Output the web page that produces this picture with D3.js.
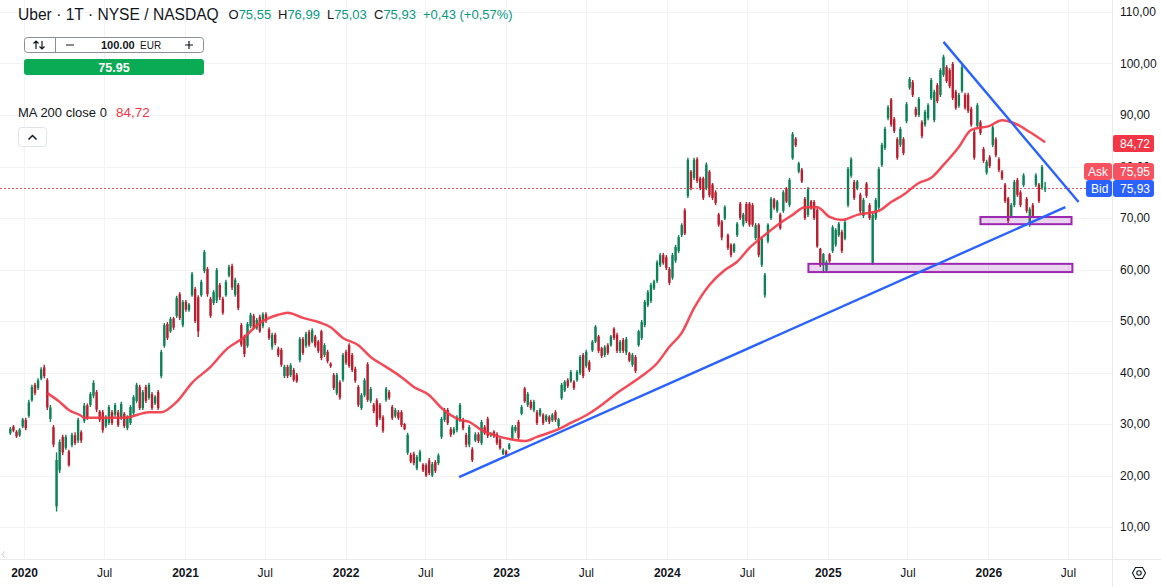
<!DOCTYPE html>
<html>
<head>
<meta charset="utf-8">
<style>
html,body{margin:0;padding:0;background:#fff;overflow:hidden}
svg{display:block;font-family:"Liberation Sans",Arial,sans-serif}
text{fill:#131722}
</style>
<script src="https://cdn.jsdelivr.net/npm/d3@7"></script>
</head>
<body>
<svg id="chart" width="1161" height="587"></svg>
<script>
// Weekly price bars for Uber, oldest first
const firstBarDate = "2019-12-01";
const highs = [
29.4,29.8,28.8,29.2,31.2,31.2,34.7,37.6,38,38.9,
41,41.5,38.9,33.7,29.8,24.5,27,27.9,27.9,25,
28.3,28.4,31.2,28.8,34.1,34,36.2,38.5,36.6,32.7,
32.7,31.7,33.7,32.7,34.1,32.7,34.3,32.3,31.7,33.7,
35.6,38,37.6,36.6,37.6,38,36.2,35.6,36.6,44.4,
49.6,49.8,50.8,50.8,54.9,55.6,54.1,54.1,53.5,59.5,
56.6,55,58,63.8,60.5,54.7,56,60.3,57.4,54.7,
58,60.9,61.1,58.4,57.4,49.6,47.3,49.8,51.6,51.4,
50.6,51.2,51.7,51.7,48.8,47.7,47.7,45,44.8,41.5,
41.5,41.8,40.9,39.9,46.9,46.9,47.9,48.3,48.6,47.3,
46.3,48.3,45.7,44.4,42,39.9,39.9,38.5,43.8,44.4,
45.7,43.8,41.1,37.6,36,38.9,42,37.2,34.1,35,
34.1,31.7,37.2,36.6,33.7,33.1,32.7,32.7,30.2,28.3,
24.4,24.6,24,25,22.4,22.4,23.4,22.6,23,24.3,
31.4,33.1,33.1,29.4,29.4,31.7,34.1,31.2,28.3,29.8,
25.5,28.4,28.4,30.8,29.8,31.4,28.4,28.8,28.4,27.3,
25.3,25,26.3,29.8,29.8,30.8,33.7,37.2,36.2,34.7,
34.7,32.7,33.1,32.1,31.9,31.7,32.1,32.7,31.2,38,
38.5,38.9,40.5,38.5,40.5,43.4,43.8,44.4,42.4,46.3,
49.2,47.3,45,45.3,45.7,47.3,48.8,47.7,46.3,46.7,
46.9,44,43.8,43.4,48.3,50.2,54.1,56,57.4,58,
61.8,63.2,63.2,62.8,60.5,63.2,64.8,66.7,69,71.9,
81.7,79.3,81.7,81.8,78,78,80.8,79.3,76.8,75.4,
71,69.6,72.5,67,65.1,65.1,69.2,73.1,71,73.1,
73.1,72.9,69,69,66.3,59.3,69,74.1,73.9,73.5,
71,75.4,76,77.8,86.7,85.7,80.9,79.7,74.1,76,
73.5,73.5,71.9,64.2,63.2,61.8,63.2,68.6,68,69.2,
67.7,69.6,79.9,81.8,77.4,77.4,74.9,73.9,77,72.9,
71,73.9,79.9,84.6,87.7,91.9,93.3,89.6,85.7,87.7,
85.7,92.5,97.4,96.8,91.6,93.5,89,91,92.3,97.2,
94.9,96.2,99.1,101.7,99.7,99.1,100.3,94.9,94.3,99.7,
94.3,94.3,91.6,87.1,92.3,89,83.8,81.3,82.2,88,
85.7,81.8,79.3,76.8,74.1,72.9,77.4,77.8,75.4,78.7,
74.1,72.1,72.9,78.7,76.8,80.3,76.99];
const lows = [
27.9,28.4,27.3,27.5,29.2,28.8,31.2,34.3,35.6,36.6,
38.5,38.9,32.7,30.4,25.5,13,20.5,24,25,21.7,
25.5,25.9,26.3,26.3,30.2,30.8,33.3,35,32.3,30.4,
28.3,29.2,29.8,29.8,31.4,29.4,30.8,29.2,28.8,29.8,
31.7,34.1,32.7,32.7,34.1,34.7,32.7,33.7,32.7,38.9,
44.8,46.3,47.7,48.3,50.6,50.2,48.8,51.8,51.8,54.7,
49.6,46.9,54.7,59.3,54.7,50.6,53.1,53.5,54.1,51.2,
54.7,58.5,56,54.7,52.1,45,43,44.8,48.6,48.3,
48.3,47.7,48.6,49.6,46.3,44.4,45.3,43,41.1,38.9,
38.9,39.1,38.2,38,42,43.4,44.8,45,45.7,44.8,
43.8,42.4,43,41.8,40.9,36.6,35.6,34.7,38.2,41.5,
40.9,40.1,38,33.3,32.7,35.2,34.3,34.1,32.1,29.4,
30.8,28.3,34.3,34.7,30.8,31.2,30.8,29.4,28.8,24,
22.4,22,21,22.6,20.7,19.7,20.1,19.7,20.5,22,
27.1,30.4,29.8,27.5,27.9,28.4,30.4,28.8,25.5,25.5,
22.6,26.5,26.3,25.9,27.9,27.3,27.5,27.3,25.9,25,
24,23.6,25,26.9,28.3,26.9,31.7,34.1,33.3,32.7,
32.3,29.8,31.4,29.8,30.4,30,30.4,30.4,29.2,34.7,
36.2,37,38,36.6,38.2,39.5,38.9,40.9,40.1,44,
45.7,43.8,42.8,43,43.4,45,46.3,43.8,43.8,43.8,
43.4,42,41.1,39.9,45,46.3,48.8,52.7,53.5,56,
57.4,60.5,60.9,59.9,57,58,61.3,63.2,66.3,66.7,
73.9,75.4,77.4,76.8,75.4,73.5,75.4,74,73.5,72.5,
68.3,65.7,69.6,63.8,62.4,63.2,66.3,69.6,68.3,69,
68.3,68.3,65.7,62.4,60.5,54.5,65.1,69.6,71.6,71,
67.7,71,72.9,72.1,81.3,83.8,78.7,76.8,69.6,70.2,
71.6,69.6,64.2,60.5,59.3,59.5,61.3,63.2,64.4,66.3,
63.2,65.7,72.1,77.8,73.5,75.4,70.9,70,73.9,69.6,
60.9,69.6,71.6,79.9,83.2,89,87.7,86.5,81.3,83.8,
82.2,88.4,94.9,93.5,89.6,89.6,85.5,87.7,89,92.9,
88.6,92.3,93.5,97.4,96.2,95.2,92.9,91,91.4,94.3,
91,90.4,87.7,81.3,87.5,86.1,80.7,78.4,79.7,83.8,
81.8,78.9,77.4,72.9,69,70,72.1,74.1,72.1,76,
71,68.3,70,76,72.9,75.5,75.03];
const opens = [
28.2,29.5,28.5,27.8,29.5,30.8,31.6,34.6,37.6,37,
38.8,41,38.5,31,29.4,14,21,27.5,25.4,24.7,
25.9,27.8,26.8,28.4,30.6,33.6,33.7,35.5,36.2,32.4,
32.3,29.6,30.2,32.3,31.8,32.3,31.2,32,29.2,30.2,
32.1,34.5,37.2,33.1,37.2,35.1,35.8,34,36.2,39.3,
45.2,49.4,48,50.5,51,55.2,49.2,53.7,52.1,55,
56.2,54.6,55,59.7,60.1,54.3,53.5,54,57,54.3,
55,58.8,60.7,55.1,57,49.2,46.9,45.2,49,51,
48.6,50.8,49,51.3,48.4,45,47.3,44.6,44.4,39.3,
41.1,39.5,40.5,39.5,42.4,46.5,45.2,47.9,46,47,
46,48,43.4,44,41.7,39.5,36,38.1,38.6,44,
45.3,43.4,40.7,37.2,33.1,35.6,41.6,34.5,33.7,34.6,
33.7,31.3,34.7,36.2,33.3,31.6,32.3,32.3,30,24.4,
24,24.2,21.4,22.9,22.1,22,22.9,20,22.6,22.4,
27.5,30.8,32.7,29,28.2,28.8,30.8,30.8,27.9,26,
25.1,26.8,28,26.3,29.4,31,27.8,28.5,28,27,
24.2,24.7,25.2,27.3,28.7,30.4,32,36.9,33.7,34.3,
32.7,32.3,31.7,31.8,30.7,31.4,30.7,32.3,29.6,35,
36.5,38.5,38.3,38.2,38.5,39.9,43.4,41.3,42,44.3,
46,47,44.7,43.4,45.3,45.3,48.5,47.3,44.2,46.3,
43.9,43.7,41.5,43,45.3,46.7,49.2,53.1,53.9,56.3,
57.8,60.9,62.8,62.4,60.1,58.4,61.7,63.6,66.7,71.5,
74.3,79,77.8,81.4,77.7,77.7,75.8,79,76.5,75,
70.7,69.3,69.9,66.7,64.8,63.5,66.7,72.8,68.7,72.7,
72.8,72.5,66.1,68.7,60.9,55,65.5,70,73.6,71.4,
70.7,71.4,75.7,72.5,81.6,85.4,79,79.4,73.7,70.6,
73.2,73.1,71.6,64,60.8,59.8,62.9,63.6,64.8,66.7,
67.3,66,72.5,78.2,77,75.7,74.5,70.4,76.7,72.5,
61.3,70,72,80.3,83.6,89.4,93,89.2,85.3,84.2,
85.3,88.8,95.3,96.4,91.2,90,88.6,88.1,89.4,93.3,
89,95.8,93.9,97.8,99.3,98.7,99.9,94.5,91.8,94.7,
93.9,93.9,91.2,86.7,87.9,88.6,83.4,78.8,81.8,84.2,
85.3,81.4,79,76.5,73.8,70.4,72.5,77.4,75,76.4,
73.7,68.7,72.5,76.4,76.5,75.9,75.55];
const closes = [
29.1,28.7,27.6,28.9,30.9,29.2,34.2,37.2,36,38.5,
40.6,39.3,33.2,33.2,26,23,26.5,24.5,27.5,22,
27.9,26.3,30.8,26.8,33.6,31.2,35.8,38,32.8,30.8,
28.8,31.3,33.3,30.2,33.7,29.8,33.9,29.6,31.4,33.3,
35.2,37.6,33.1,36.2,34.5,37.6,33.1,35.3,33.1,44,
49.2,46.7,50.4,48.7,54.5,50.6,53.7,52.2,53.2,59.1,
50,48,57.6,63.4,55.2,51,55.6,59.9,54.6,51.6,
57.6,60.5,56.5,58,52.5,45.4,43.6,49.4,51.2,48.7,
50.2,48,51.3,50,46.7,47.3,45.7,43.4,41.5,41.1,
39.3,41.4,38.6,38.3,46.5,43.8,47.5,45.4,48.2,45.2,
44.2,42.8,45.3,42.2,41.2,37,39.5,35.1,43.4,41.9,
41.3,40.5,38.4,33.7,35.6,38.5,34.7,36.8,32.5,29.8,
31.2,28.7,36.8,35.1,31.2,32.7,31.2,29.8,29,27.9,
22.7,22.4,23.6,24.6,21,20,20.5,22.2,20.9,23.9,
31,32.7,30.2,27.9,29,31.3,33.7,29.2,26,29.4,
23,28,26.7,30.4,28.2,27.7,28.2,27.6,26.3,25.3,
25,24,26,29.4,29.4,27.3,33.3,34.4,35.8,33.1,
34.3,30.2,32.8,30.2,31.6,30.4,31.8,30.8,30.9,37.6,
38.2,37.4,40.1,37,40.1,43,39.3,44,40.5,46,
48.9,44.2,43.2,44.9,43.8,47,46.7,44.2,45.9,44.2,
46.5,42.3,43.4,40.3,48,49.8,53.7,55.6,57,57.7,
61.4,62.8,61.3,60.3,57.4,62.8,64.4,66.3,68.6,67,
81.3,75.8,81.3,77.2,75.8,73.9,80.4,74.4,73.9,72.9,
68.7,66.2,72.1,64.2,62.8,64.9,68.9,70,70.7,69.4,
68.7,68.7,68.6,62.8,66,59,68.7,73.7,72,73.2,
68,75,73.2,77.4,86.3,84.1,80.6,77.1,70,75.6,
71.9,70,64.5,60.8,63,61.4,61.6,68.2,67.7,68.9,
63.6,69.2,79.5,81.4,73.9,77.1,71.3,73.5,74.3,70,
70.6,73.5,79.5,84.2,87.3,91.5,88.1,86.9,81.7,87.3,
82.6,92.1,97,93.9,90,93.1,85.9,90.6,91.9,96.8,
94.5,92.7,98.7,101.3,96.6,95.6,93.3,91.4,93.9,99.3,
91.4,90.8,88.1,81.7,91.9,86.5,81.1,80.9,80.1,87.6,
82.2,79.3,77.7,73.3,69.4,72.5,77,74.5,72.5,78.3,
71.4,71.7,70.4,78.3,73.3,79.9,75.93];

// 200-period moving average: bar number and value
const maBars = [12,16,19,23,24,29,37,45,49,54,59,65,70,76,81,87,90,95,100,104,108,113,117,122,127,131,136,140,146,149,153,158,162,167,171,178,182,187,192,197,205,210,214,218,222,227,232,236,240,245,249,254,258,262,266,270,275,282,286,290,295,299,303,308,312,318,322,326,331,336];
const maValues = [36,34.3,32.7,31.6,31.2,31.2,31.2,32.3,32.3,34.3,38,41.1,44.4,46.9,49.6,51.2,51.6,50.6,49.8,48.8,46.7,45.3,43,41.1,39.1,37.2,35.6,33.1,30.8,30.4,28.8,27.7,27.1,26.7,27.5,29,30.2,31.7,33.7,36,39.3,41.8,45,47.7,52.5,57,59.9,61.5,64.2,66.7,68.6,70.6,72.1,72.1,70.2,69.6,70.6,71.4,73.1,74.5,76.8,77.8,80.3,83.8,87.1,87.9,89,88.4,86.7,84.72];

// Hand-drawn trend lines: start and end of each
const trendDates = [["2022-09-16","2026-06-25"],["2025-09-21","2026-07-25"]];
const trendValues = [[19.7,72.1],[104.2,73.1]];

// Support zones
const zoneDates = [["2025-12-14","2026-07-09"],["2024-11-18","2026-07-11"]];
const zoneValues = [[70.2,68.8],[61.1,59.5]];

const priceTicks = [10,20,30,40,50,60,70,80,90,100,110];
const timeTickDates = ["2020-01-01","2020-07-01","2021-01-01","2021-07-01","2022-01-01","2022-07-01","2023-01-01","2023-07-01","2024-01-01","2024-07-01","2025-01-01","2025-07-01","2026-01-01","2026-07-01"];
const timeTickLabels = ["2020","Jul","2021","Jul","2022","Jul","2023","Jul","2024","Jul","2025","Jul","2026","Jul"];

const lastClose = 75.93;
const askPrice = 75.95;
const maLast = 84.72;

const UP = "#0f8158", DOWN = "#b8202f", MA_RED = "#f23645", BLUE = "#2962ff", PURPLE = "#9c27b0";
const commaFmt = v => d3.format(".2f")(v).replace(".", ",");

const svg = d3.select("#chart");
const parse = d3.utcParse("%Y-%m-%d");
const x = d3.scaleUtc().domain([parse("2020-01-01"), parse("2026-07-01")]).range([24, 1068]);
const y = d3.scaleLinear().domain([10, 110]).range([527, 12]);
const barDate = i => d3.utcDay.offset(parse(firstBarDate), 7 * i);
const tickDates = timeTickDates.map(parse);

// grid
const grid = svg.append("g").attr("stroke", "#f2f3f5").attr("stroke-width", 1).attr("shape-rendering", "crispEdges");
grid.selectAll("line.h").data(priceTicks).join("line").attr("class", "h")
  .attr("x1", 0).attr("x2", 1112).attr("y1", d => Math.round(y(d)) + .5).attr("y2", d => Math.round(y(d)) + .5);
grid.selectAll("line.v").data(tickDates).join("line").attr("class", "v")
  .attr("y1", 0).attr("y2", 559).attr("x1", d => Math.round(x(d)) + .5).attr("x2", d => Math.round(x(d)) + .5);

// axis frame
svg.append("line").attr("x1", 0).attr("x2", 1161).attr("y1", 559.5).attr("y2", 559.5).attr("stroke", "#e8eaee");
svg.append("line").attr("x1", 1112.5).attr("x2", 1112.5).attr("y1", 0).attr("y2", 587).attr("stroke", "#e8eaee");

// last price marker, snapped to a pixel row
const lastRow = Math.ceil(y(lastClose)) + .5;
svg.append("line").attr("x1", 0).attr("x2", 1086).attr("y1", lastRow).attr("y2", lastRow)
  .attr("stroke", "#f7525f").attr("stroke-width", 1).attr("stroke-dasharray", "2 2").attr("shape-rendering", "crispEdges");

// price bars
const bars = d3.range(highs.length);
const colorOf = i => closes[i] >= opens[i] ? UP : DOWN;
const gBars = svg.append("g");
gBars.selectAll("line").data(bars).join("line")
  .attr("x1", i => x(barDate(i))).attr("x2", i => x(barDate(i)))
  .attr("y1", i => y(highs[i])).attr("y2", i => y(lows[i]))
  .attr("stroke", colorOf).attr("stroke-width", 1.4);
gBars.selectAll("rect").data(bars).join("rect")
  .attr("x", i => x(barDate(i)) - 1.2).attr("width", 2.4)
  .attr("y", i => y(Math.max(opens[i], closes[i])))
  .attr("height", i => Math.abs(y(opens[i]) - y(closes[i])))
  .attr("fill", colorOf);

// moving average
svg.append("path")
  .attr("d", d3.line().x((d, i) => x(barDate(maBars[i]))).y(d => y(d)).curve(d3.curveMonotoneX)(maValues))
  .attr("fill", "none").attr("stroke", MA_RED).attr("stroke-width", 2.5).attr("stroke-opacity", .9);

// zones
svg.selectAll("rect.zone").data(zoneDates).join("rect").attr("class", "zone")
  .attr("x", d => x(parse(d[0]))).attr("width", d => x(parse(d[1])) - x(parse(d[0])))
  .attr("y", (d, i) => y(zoneValues[i][0])).attr("height", (d, i) => y(zoneValues[i][1]) - y(zoneValues[i][0]))
  .attr("fill", PURPLE).attr("fill-opacity", .2).attr("stroke", PURPLE).attr("stroke-width", 2);

// trend lines
svg.selectAll("line.trend").data(trendDates).join("line").attr("class", "trend")
  .attr("x1", d => x(parse(d[0]))).attr("x2", d => x(parse(d[1])))
  .attr("y1", (d, i) => y(trendValues[i][0])).attr("y2", (d, i) => y(trendValues[i][1]))
  .attr("stroke", BLUE).attr("stroke-width", 2.4);

// price axis
const axR = svg.append("g").attr("transform", "translate(1112,0)")
  .call(d3.axisRight(y).tickValues(priceTicks).tickSize(0).tickPadding(8).tickFormat(commaFmt));
axR.select(".domain").remove();
axR.selectAll("text").style("font-size", "12px").style("font-family", '"Liberation Sans",Arial,sans-serif').style("fill", "#131722");

// time axis
const axB = svg.append("g").attr("transform", "translate(0,559)")
  .call(d3.axisBottom(x).tickValues(tickDates).tickSize(0).tickPadding(9).tickFormat((d, i) => timeTickLabels[i]));
axB.select(".domain").remove();
axB.selectAll("text").style("font-size", "12px").style("font-family", '"Liberation Sans",Arial,sans-serif')
  .style("fill", "#131722").style("font-weight", (d, i) => timeTickLabels[i] === "Jul" ? "normal" : "bold");

// price labels on the scale
function tag(x0, w, y0, h, fill, label, r, textX) {
  svg.append("rect").attr("x", x0).attr("y", y0).attr("width", w).attr("height", h).attr("rx", r).attr("fill", fill);
  svg.append("text").attr("x", textX).attr("y", y0 + h / 2 + 4.5).style("fill", "#fff").style("font-size", "12px").text(label);
}
tag(1113, 41, 135, 17, MA_RED, commaFmt(maLast), 2, 1120);
tag(1084, 28, 163, 17, "#f7525f", "Ask", 3, 1088);
tag(1113, 41, 163, 17, "#f7525f", commaFmt(askPrice), 3, 1120);
tag(1086, 26, 180, 17, BLUE, "Bid", 3, 1091);
tag(1113, 41, 180, 17, BLUE, commaFmt(lastClose), 3, 1120);

// header
const legendY = 19;
svg.append("text").attr("x", 18).attr("y", legendY + 1).style("font-size", "15.6px").text("Uber · 1T · NYSE / NASDAQ");
const LEG = "#089981";
[["O", "75,55", 228.5], ["H", "76,99", 278], ["L", "75,03", 327], ["C", "75,93", 374]].forEach(([k, v, px]) => {
  const t = svg.append("text").attr("x", px).attr("y", legendY).style("font-size", "13px");
  t.append("tspan").text(k);
  t.append("tspan").style("fill", LEG).text(v);
});
svg.append("text").attr("x", 423).attr("y", legendY).style("font-size", "13px").style("fill", LEG).text("+0,43 (+0,57%)");

// order ticket
svg.append("rect").attr("x", 24.5).attr("y", 37.5).attr("width", 179).attr("height", 15).attr("rx", 3).attr("fill", "#fff").attr("stroke", "#8c8f99");
svg.append("line").attr("x1", 55.5).attr("x2", 55.5).attr("y1", 37.5).attr("y2", 52.5).attr("stroke", "#8c8f99");
svg.append("path").attr("d", "M36 49V41M33.5 43.5L36 41L38.5 43.5M42 41V49M39.5 46.5L42 49L44.5 46.5").attr("fill", "none").attr("stroke", "#131722").attr("stroke-width", 1.2);
svg.append("path").attr("d", "M66 45H74M185 45H193M189 41V49").attr("fill", "none").attr("stroke", "#131722").attr("stroke-width", 1.2);
svg.append("text").attr("x", 101).attr("y", 49).style("font-size", "11px").style("font-weight", "bold").text("100.00");
svg.append("text").attr("x", 140).attr("y", 49).style("font-size", "10px").text("EUR");
svg.append("rect").attr("x", 24).attr("y", 59).attr("width", 180).attr("height", 16).attr("rx", 3).attr("fill", "#0bab56");
svg.append("text").attr("x", 114).attr("y", 71.5).attr("text-anchor", "middle").style("fill", "#fff").style("font-size", "12.5px").style("font-weight", "bold").text("75.95");

// indicator legend
svg.append("text").attr("x", 18).attr("y", 117).style("font-size", "13px").text("MA 200 close 0");
svg.append("text").attr("x", 116).attr("y", 117).style("font-size", "13.5px").style("fill", MA_RED).text(commaFmt(maLast));
svg.append("rect").attr("x", 18.5).attr("y", 127.5).attr("width", 28).attr("height", 19).attr("rx", 3).attr("fill", "#fff").attr("stroke", "#e0e3eb");
svg.append("path").attr("d", "M28.5 139.5L32.5 135.5L36.5 139.5").attr("fill", "none").attr("stroke", "#131722").attr("stroke-width", 1.5);

// scroll hint and settings icon
svg.append("path").attr("d", "M4.5 551.5L2 554.5L4.5 557.5").attr("fill", "none").attr("stroke", "#c4c7ce").attr("stroke-width", 1);
svg.append("path").attr("d", "M1132.5 573L1135.5 567.5H1142.5L1145.5 573L1142.5 578.5H1135.5Z").attr("fill", "none").attr("stroke", "#131722").attr("stroke-width", 1.1);
svg.append("circle").attr("cx", 1139).attr("cy", 573).attr("r", 2.2).attr("fill", "none").attr("stroke", "#131722").attr("stroke-width", 1.1);
</script>
</body>
</html>
